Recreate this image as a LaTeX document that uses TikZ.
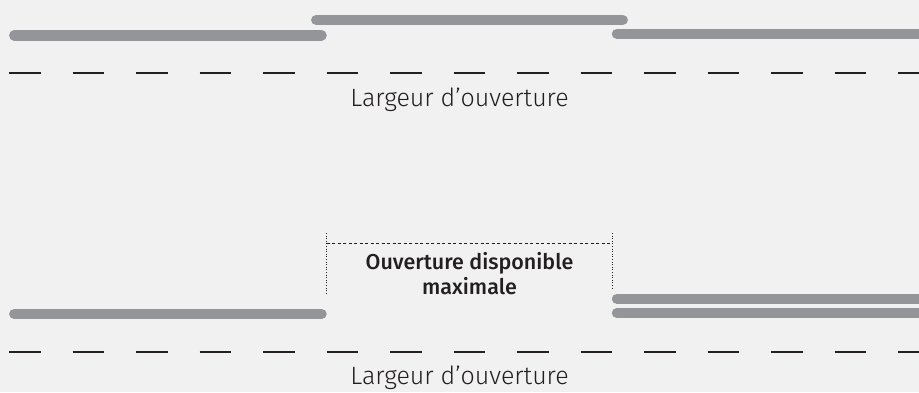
\documentclass[tikz,border=0pt]{standalone}
\usepackage{fontspec}
\setmainfont{Fira Sans}[UprightFont=* Light, BoldFont=* Medium]
\definecolor{bg}{HTML}{F0F1F0}
\definecolor{bargray}{HTML}{939598}
\definecolor{ink}{HTML}{231F20}
\begin{document}
\begin{tikzpicture}[x=1pt,y=-1pt,
    bar/.style={line width=10.5pt,line cap=round,bargray},
    lane/.style={line width=2.2pt,ink,dash pattern=on 31.75pt off 31.75pt},
    label/.style={anchor=base,inner sep=0pt,text=ink,font=\fontsize{25}{30}\selectfont}]
  \fill[bg] (0,0) rectangle (919,392);
  \useasboundingbox (0,0) rectangle (919,392);
  % top: three panels
  \draw[bar] (14.3,35.3) -- (321.5,35.3);
  \draw[bar] (316.3,20) -- (622.7,20);
  \draw[bar] (617,33.8) -- (930,33.8);
  \draw[lane] (9,72.7) -- (925,72.7);
  \node[label] (widthtop) at (459.5,106.7) {Largeur d’ouverture};
  % bottom: panels stacked
  \draw[bar] (14.3,314) -- (321.5,314);
  \draw[bar] (617,298.8) -- (930,298.8);
  \draw[bar] (617,313) -- (930,313);
  \draw[lane] (9,351.7) -- (925,351.7);
  \node[label] (widthbot) at (459.5,384) {Largeur d’ouverture};
  \coordinate (openL) at (326.7,233);
  \coordinate (openR) at (612.3,233);
  \draw[ink,line width=0.6pt,dash pattern=on 1pt off 1.6pt] (openL) -- ++(0,60);
  \draw[ink,line width=0.6pt,dash pattern=on 1pt off 1.6pt] (openR) -- ++(0,55);
  \draw[ink,line width=0.8pt,dash pattern=on 3pt off 2.5pt] (326.7,243) -- (612.3,243);
  \node[anchor=base,inner sep=0pt,text=ink,align=center,font=\bfseries\fontsize{21.5}{24.3}\selectfont]
    (maxopen) at (469.5,294) {Ouverture disponible\\maximale};
\end{tikzpicture}
\end{document}
